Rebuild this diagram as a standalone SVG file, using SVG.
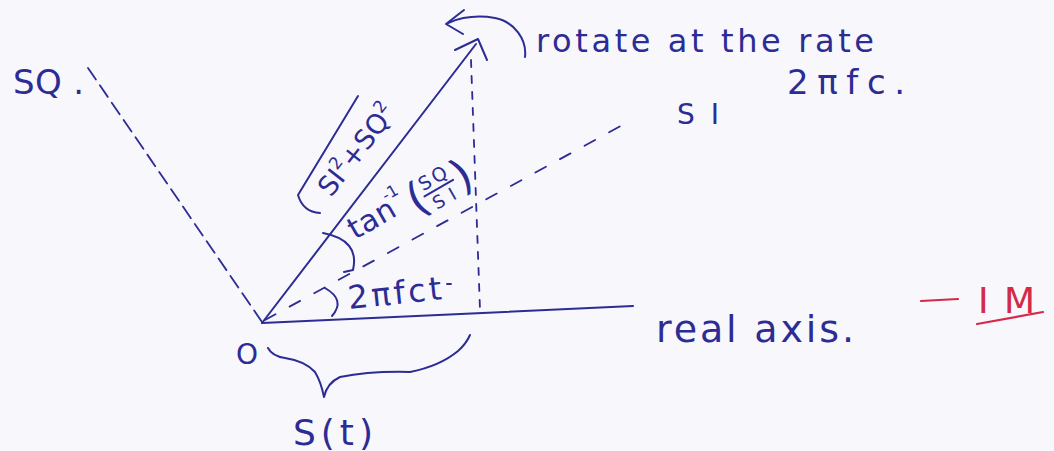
<svg xmlns="http://www.w3.org/2000/svg" width="1054" height="451" viewBox="0 0 1054 451">
<style>
.ink{stroke:#2c2c94;stroke-width:2;fill:none;stroke-linecap:round;stroke-linejoin:round}
.dash{stroke:#2c2c94;stroke-width:1.8;fill:none;stroke-linecap:round}
.red{stroke:#d42a48;stroke-width:2.2;fill:none;stroke-linecap:round}
.t{font-family:"DejaVu Sans","Liberation Sans",sans-serif;fill:#2c2c94}
.r{font-family:"DejaVu Sans","Liberation Sans",sans-serif;fill:#d42a48}
</style>
<rect width="1054" height="451" fill="#f7f7fc"/>
<g id="axes">
  <line class="dash" x1="88" y1="68" x2="262" y2="322" stroke-dasharray="14 7"/>
  <line class="dash" x1="265" y1="320" x2="628" y2="122" stroke-dasharray="12 16"/>
  <line class="ink" x1="262" y1="323" x2="633" y2="306"/>
  <line class="dash" x1="471" y1="60" x2="480" y2="310" stroke-dasharray="7 9"/>
  <path class="dash" d="M447,284 L451,284"/>
</g>
<g id="phasor">
  <line class="ink" x1="262" y1="323" x2="476" y2="44"/>
  <path class="ink" d="M455,50 L478,39 L487,60"/>
</g>
<g id="rotation">
  <path class="ink" d="M525,57 C527,40 515,22 495,18 C478,15 462,17 448,23"/>
  <path class="ink" d="M464,10 L446,24 L463,34"/>
</g>
<g id="angles">
  <path class="ink" d="M323,233 Q360,240 353,270 L344,272"/>
  <path class="ink" d="M325,288 Q346,300 332,316"/>
</g>
<g id="brace">
  <path class="ink" d="M268,348 Q272,356 285,358 Q305,361 315,372 Q321,382 324,397 Q327,383 340,377 Q370,371 410,372 Q440,366 458,351 Q466,344 470,335"/>
</g>
<g id="magnitude">
  <path class="ink" d="M320,213 Q303,212 298,195 L358,96"/>
  <text class="t" font-size="27" transform="translate(331,198) rotate(-52)">SI<tspan dy="-12" font-size="17">2</tspan><tspan dy="12">+SQ</tspan><tspan dy="-12" font-size="17">2</tspan></text>
</g>
<g id="phase">
  <g transform="translate(355,240) rotate(-30)">
    <text class="t" font-size="30" x="0" y="0" textLength="50">tan</text>
    <text class="t" font-size="16" x="46" y="-18">-1</text>
    <text class="t" font-size="44" x="66" y="10">(</text>
    <text class="t" font-size="19" x="83" y="-8" textLength="30">SQ</text>
    <line class="ink" x1="82" y1="-3" x2="115" y2="-3"/>
    <text class="t" font-size="18" x="86" y="15" textLength="24">SI</text>
    <text class="t" font-size="44" x="116" y="12">)</text>
  </g>
</g>
<g id="labels">
  <text class="t" font-size="34" x="13" y="94" textLength="71">SQ .</text>
  <text class="t" font-size="32" x="536" y="52" textLength="338">rotate at the rate</text>
  <text class="t" font-size="34" x="787" y="94" textLength="118">2πfc.</text>
  <text class="t" font-size="28" x="677" y="124" textLength="42">SI</text>
  <text class="t" font-size="32" x="349" y="309" textLength="94" transform="rotate(-6 349 309)">2πfct</text>
  <text class="t" font-size="38" x="656" y="342" textLength="198">real axis.</text>
  <text class="t" font-size="28" x="236" y="364">O</text>
  <text class="t" font-size="36" x="293" y="445" textLength="80">S(t)</text>
</g>
<g id="mark">
  <line class="red" x1="921" y1="301" x2="958" y2="299"/>
  <text class="r" font-size="36" x="978" y="313" textLength="57">IM</text>
  <line class="red" x1="977" y1="324" x2="1043" y2="312"/>
</g>
</svg>
